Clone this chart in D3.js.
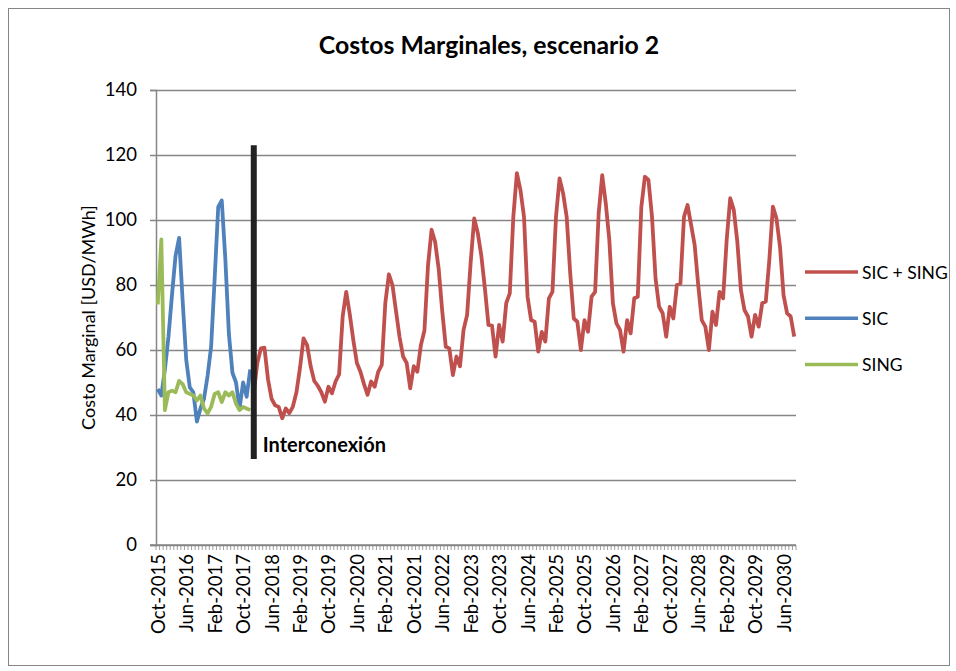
<!DOCTYPE html>
<html>
<head>
<meta charset="utf-8">
<script src="https://cdn.jsdelivr.net/npm/d3@7"></script>
<style>
  body { margin: 0; background: #fff; }
  svg { font-family: Lato, "Open Sans", sans-serif; }
</style>
</head>
<body>
<div id="chart"></div>
<script>
// Categories: monthly, Oct-2015 .. Sep-2030
const months = d3.timeMonths(new Date(2015, 9, 1), new Date(2030, 9, 1));
const tickLabels = ['Oct-2015', 'Jun-2016', 'Feb-2017', 'Oct-2017', 'Jun-2018', 'Feb-2019',
    'Oct-2019', 'Jun-2020', 'Feb-2021', 'Oct-2021', 'Jun-2022', 'Feb-2023', 'Oct-2023',
    'Jun-2024', 'Feb-2025', 'Oct-2025', 'Jun-2026', 'Feb-2027', 'Oct-2027', 'Jun-2028',
    'Feb-2029', 'Oct-2029', 'Jun-2030'];
const yTicks = [0, 20, 40, 60, 80, 100, 120, 140];

// SIC and SING: Oct-2015 .. Dec-2017
const sic = [48, 46, 54, 64, 77, 89, 94.5, 75, 57, 48.5, 47, 38, 42, 45, 52, 61, 82, 104,
    106, 88, 65, 53, 50, 42, 50, 45.6, 54];
const sing = [74, 94, 41.5, 47, 47.5, 47, 50.5, 49.5, 47, 46.5, 46, 44.5, 46, 42, 40.5, 42.5,
    46.5, 47, 44, 47, 46, 47, 43.5, 41.5, 42.5, 42, 41.5];
// SIC + SING: Jan-2018 .. Sep-2030
const sicSingStart = 27;
const sicSing = [47, 56, 60.5, 60.7, 51, 45, 43, 42.5, 39, 42, 40.6, 42.6, 47, 54.5, 63.6,
    61.5, 55, 50.5, 49, 47, 44.1, 48.7, 46.7, 50.3, 52.5, 70.3, 77.9, 71, 63, 56, 53.3, 49.5,
    46.2, 50.3, 48.7, 53.3, 55.4, 74.5, 83.3, 80, 72, 64, 58, 56, 48.2, 55, 53.3, 61.5, 66,
    86, 97, 93.3, 85, 72, 61, 60.5, 52.3, 58, 55, 66.2, 70.8, 87, 100.5, 96, 89, 79, 67.7,
    67.5, 58, 67.7, 62.6, 74.4, 77.4, 101, 114.4, 109.2, 101, 76.4, 69.2, 68.7, 59.5, 65.6,
    62.6, 75.9, 77.9, 101, 112.8, 108.2, 101, 83.6, 69.7, 68.7, 60, 69.2, 65.6, 76.4, 77.9,
    102, 113.8, 105.1, 93.8, 74.4, 68.2, 66.2, 59.5, 69.2, 65.1, 75.9, 76.4, 104, 113.3,
    112.3, 101, 82, 73.3, 71.3, 64.1, 73.3, 69.7, 80, 80.5, 101, 104.6, 98.5, 92.3, 80, 69.2,
    67.2, 60, 71.8, 67.7, 77.9, 75.9, 93.8, 106.7, 103.1, 93.3, 78.5, 72.3, 70.3, 64.1, 70.8,
    67.2, 74.4, 74.9, 87.7, 104.1, 100.5, 91.8, 76.9, 71.3, 70.3, 64.1];

const series = [
    { name: 'SIC + SING', color: '#C0504D', start: sicSingStart, values: sicSing },
    { name: 'SIC', color: '#4F81BD', start: 0, values: sic },
    { name: 'SING', color: '#9BBB59', start: 0, values: sing }
];

const W = 956, H = 671;
const plot = { left: 156, right: 796, top: 90, bottom: 545 };
const fmt = d3.timeFormat('%b-%Y');

const svg = d3.select('#chart').append('svg')
    .attr('width', W)
    .attr('height', H);

// chart area border
svg.append('rect')
    .attr('x', 8.5).attr('y', 8.5)
    .attr('width', 941).attr('height', 657)
    .attr('fill', '#fff')
    .attr('stroke', '#868686');

const x = d3.scaleBand()
    .domain(d3.range(months.length))
    .range([plot.left, plot.right])
    .padding(0);
const cx = i => x(i) + x.bandwidth() / 2;

const y = d3.scaleLinear()
    .domain([0, 140])
    .range([plot.bottom, plot.top]);

// gridlines + y axis
const yAxis = svg.append('g')
    .attr('transform', `translate(${plot.left},0)`)
    .call(d3.axisLeft(y).tickValues(yTicks).tickSize(6).tickPadding(13));
yAxis.select('.domain').attr('stroke', '#868686').attr('stroke-width', 1.5);
yAxis.selectAll('.tick line').attr('stroke', '#868686').attr('stroke-width', 1.5)
    .attr('x1', -6).attr('x2', plot.right - plot.left);
yAxis.selectAll('.tick text')
    .attr('font-size', 18.5).attr('fill', '#000')
    .attr('font-family', 'Lato, sans-serif');

// x axis: tick at every month boundary, label every 8 months
const xg = svg.append('g').attr('transform', `translate(0,${plot.bottom})`);
xg.selectAll('line.mt')
    .data(d3.range(months.length + 1))
    .enter().append('line')
    .attr('class', 'mt')
    .attr('x1', i => plot.left + i * x.bandwidth())
    .attr('x2', i => plot.left + i * x.bandwidth())
    .attr('y1', 0).attr('y2', 5)
    .attr('stroke', '#868686').attr('stroke-width', 0.8);
xg.append('line')
    .attr('x1', plot.left - 6).attr('x2', plot.right)
    .attr('stroke', '#868686').attr('stroke-width', 1.5);

const labelled = d3.range(months.length).filter(i => tickLabels.includes(fmt(months[i])));
xg.selectAll('text.xl')
    .data(labelled)
    .enter().append('text')
    .attr('class', 'xl')
    .attr('transform', i => `translate(${cx(i) + 7},9) rotate(-90)`)
    .attr('text-anchor', 'end')
    .attr('font-size', 18.5)
    .text(i => fmt(months[i]));

// lines
const line = d3.line()
    .x(d => cx(d.i))
    .y(d => y(d.v));

series.forEach(s => {
    svg.append('path')
        .datum(s.values.map((v, k) => ({ i: s.start + k, v })))
        .attr('fill', 'none')
        .attr('stroke', s.color)
        .attr('stroke-width', 3.8)
        .attr('stroke-linejoin', 'round')
        .attr('d', line);
});

// interconnection marker
svg.append('line')
    .attr('x1', cx(sicSingStart)).attr('x2', cx(sicSingStart))
    .attr('y1', y(123)).attr('y2', y(26.5))
    .attr('stroke', '#222').attr('stroke-width', 6);
svg.append('text')
    .attr('x', cx(sicSingStart) + 9)
    .attr('y', y(28.5))
    .attr('font-size', 20)
    .attr('font-weight', 'bold')
    .text('Interconexión');

// title
svg.append('text')
    .attr('x', 489).attr('y', 54)
    .attr('text-anchor', 'middle')
    .attr('font-size', 24.8)
    .attr('font-weight', 'bold')
    .text('Costos Marginales, escenario 2');

// y axis title
svg.append('text')
    .attr('transform', `translate(95,${(plot.top + plot.bottom) / 2}) rotate(-90)`)
    .attr('text-anchor', 'middle')
    .attr('font-size', 18)
    .text('Costo Marginal [USD/MWh]');

// legend
const lg = svg.append('g').attr('transform', 'translate(805,272)');
series.forEach((s, k) => {
    const g = lg.append('g').attr('transform', `translate(0,${k * 46.2})`);
    g.append('line')
        .attr('x1', 0).attr('x2', 53)
        .attr('stroke', s.color).attr('stroke-width', 3.5);
    g.append('text')
        .attr('x', 57).attr('y', 6.5)
        .attr('font-size', 17.5)
        .text(s.name);
});
</script>
</body>
</html>
